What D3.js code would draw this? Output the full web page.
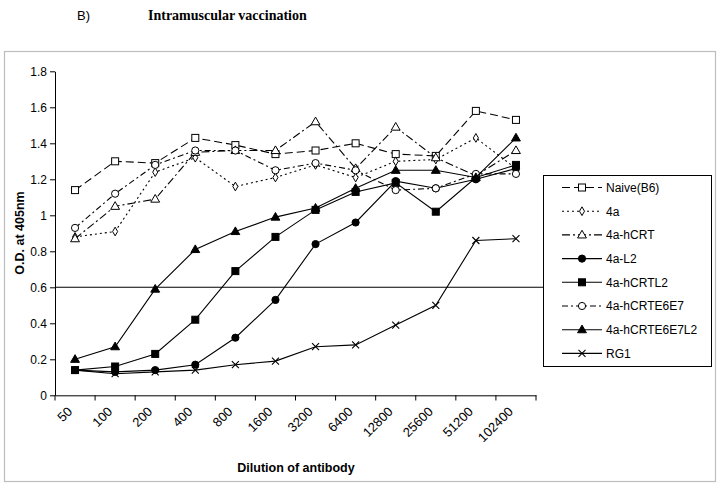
<!DOCTYPE html>
<html>
<head>
<meta charset="utf-8">
<script src="https://cdn.jsdelivr.net/npm/d3@7"></script>
<style>
  html, body { margin: 0; padding: 0; background: #fff; }
  svg { display: block; }
  text { font-family: Arial, "Liberation Sans", sans-serif; fill: #000; }
</style>
</head>
<body>
<svg id="chart" width="720" height="484"></svg>
<script>
// ---- data ----
const categories = ["50","100","200","400","800","1600","3200","6400","12800","25600","51200","102400"];
const yTickValues = [0, 0.2, 0.4, 0.6, 0.8, 1, 1.2, 1.4, 1.6, 1.8];
const yTickLabels = ["0","0.2","0.4","0.6","0.8","1","1.2","1.4","1.6","1.8"];
const seriesNames = ["Naive(B6)","4a","4a-hCRT","4a-L2","4a-hCRTL2","4a-hCRTE6E7","4a-hCRTE6E7L2","RG1"];
const naiveB6      = [1.14,1.30,1.29,1.43,1.39,1.34,1.36,1.40,1.34,1.33,1.58,1.53];
const v4a          = [0.88,0.91,1.24,1.32,1.16,1.21,1.28,1.21,1.30,1.31,1.43,1.26];
const v4aHCRT      = [0.87,1.05,1.09,1.35,1.36,1.36,1.52,1.26,1.49,1.32,1.22,1.36];
const v4aL2        = [0.14,0.13,0.14,0.17,0.32,0.53,0.84,0.96,1.19,1.15,1.20,1.26];
const v4aHCRTL2    = [0.14,0.16,0.23,0.42,0.69,0.88,1.03,1.13,1.18,1.02,1.21,1.28];
const v4aHCRTE6E7  = [0.93,1.12,1.28,1.36,1.36,1.25,1.29,1.25,1.14,1.15,1.23,1.23];
const v4aHCRTE6E7L2= [0.20,0.27,0.59,0.81,0.91,0.99,1.04,1.15,1.25,1.25,1.21,1.43];
const vRG1         = [0.14,0.12,0.13,0.14,0.17,0.19,0.27,0.28,0.39,0.50,0.86,0.87];
const cutoff = 0.6;

// ---- styles per series ----
const styles = [
  {dash:"8,4",       marker:"square",   fill:"#fff"},
  {dash:"2,3",       marker:"diamond",  fill:"#fff"},
  {dash:"8,3,2,3",   marker:"triangle", fill:"#fff"},
  {dash:null,        marker:"circle",   fill:"#000"},
  {dash:null,        marker:"square",   fill:"#000"},
  {dash:"6,3,2,3",   marker:"circle",   fill:"#fff"},
  {dash:null,        marker:"triangle", fill:"#000"},
  {dash:null,        marker:"x",        fill:"none"}
];
const seriesValues = [naiveB6, v4a, v4aHCRT, v4aL2, v4aHCRTL2, v4aHCRTE6E7, v4aHCRTE6E7L2, vRG1];

const svg = d3.select("#chart");

// outer frame
svg.append("rect").attr("x",4.5).attr("y",51.5).attr("width",711).attr("height",430)
  .attr("fill","none").attr("stroke","#bdbdbd").attr("stroke-width",1.2);

// titles
svg.append("text").attr("x",77).attr("y",20).attr("font-size",13).text("B)");
svg.append("text").attr("x",148).attr("y",20).attr("font-size",14).attr("font-weight","bold")
  .style("font-family","'Liberation Serif','Times New Roman',serif").text("Intramuscular vaccination");

// scales
const x = d3.scaleBand().domain(categories).range([55, 536]).padding(0);
const y = d3.scaleLinear().domain([0, 1.8]).range([395.3, 71.3]);
const cx = c => x(c) + x.bandwidth()/2;

// y axis
const yAxis = d3.axisLeft(y).tickValues(yTickValues).tickSize(5).tickSizeOuter(0)
  .tickFormat((d,i) => yTickLabels[i]);
const gy = svg.append("g").attr("transform","translate(55,0)").call(yAxis);
gy.selectAll("text").attr("font-size",12).attr("x",-8).style("font-family","Arial, 'Liberation Sans', sans-serif");
gy.select(".domain").attr("stroke","#000");
gy.selectAll(".tick line").attr("stroke","#000");

// x axis
const xAxis = d3.axisBottom(x).tickSize(0).tickSizeOuter(0);
const gx = svg.append("g").attr("transform","translate(0,395.3)").call(xAxis);
gx.select(".domain").attr("stroke","#000");
gx.selectAll("text")
  .attr("font-size",13)
  .style("font-family","Arial, 'Liberation Sans', sans-serif")
  .attr("text-anchor","end")
  .attr("dy",null)
  .attr("y",0)
  .attr("transform","translate(-2,17) rotate(-45)");
// category boundary ticks
const bounds = categories.map(c => x(c)).concat([x(categories[categories.length-1]) + x.bandwidth()]);
svg.append("g").selectAll("line").data(bounds).join("line")
  .attr("x1",d=>d).attr("x2",d=>d).attr("y1",395.3).attr("y2",400.5)
  .attr("stroke","#000");

// axis titles
svg.append("text").attr("x",296).attr("y",472).attr("text-anchor","middle")
  .attr("font-size",12.5).attr("font-weight","bold").text("Dilution of antibody");
svg.append("text").attr("transform","translate(24,233) rotate(-90)").attr("text-anchor","middle")
  .attr("font-size",12.5).attr("font-weight","bold").text("O.D. at 405nm");

// cutoff line
svg.append("line").attr("x1",55).attr("x2",546).attr("y1",y(cutoff)).attr("y2",y(cutoff))
  .attr("stroke","#000").attr("stroke-width",1.1);

// marker drawing
function drawMarker(g, type, fill, px, py) {
  if (type === "square") {
    g.append("rect").attr("x",px-3.5).attr("y",py-3.5).attr("width",7).attr("height",7)
      .attr("fill",fill).attr("stroke","#000").attr("stroke-width",1);
  } else if (type === "diamond") {
    g.append("path").attr("d", d3.symbol().type(d3.symbolDiamond).size(22)())
      .attr("transform",`translate(${px},${py})`).attr("fill",fill).attr("stroke","#000").attr("stroke-width",1);
  } else if (type === "triangle") {
    g.append("path").attr("d", d3.symbol().type(d3.symbolTriangle).size(34)())
      .attr("transform",`translate(${px},${py+0.5})`).attr("fill",fill).attr("stroke","#000").attr("stroke-width",1);
  } else if (type === "circle") {
    g.append("circle").attr("cx",px).attr("cy",py).attr("r",3.6)
      .attr("fill",fill).attr("stroke","#000").attr("stroke-width",1);
  } else if (type === "x") {
    const s = 3.5;
    g.append("path").attr("d",`M${px-s},${py-s}L${px+s},${py+s}M${px-s},${py+s}L${px+s},${py-s}`)
      .attr("stroke","#000").attr("stroke-width",1.1).attr("fill","none");
  }
}

const line = d3.line().x((d,i) => cx(categories[i])).y(d => y(d));

seriesValues.forEach((vals, si) => {
  const st = styles[si];
  const g = svg.append("g");
  g.append("path").attr("d", line(vals)).attr("fill","none").attr("stroke","#000")
    .attr("stroke-width",1.1).attr("stroke-dasharray", st.dash);
  vals.forEach((v,i) => drawMarker(g, st.marker, st.fill, cx(categories[i]), y(v)));
});

// legend
const lg = svg.append("g");
lg.append("rect").attr("x",543.5).attr("y",175.5).attr("width",168).attr("height",191)
  .attr("fill","#fff").attr("stroke","#000").attr("stroke-width",1);
seriesNames.forEach((name, i) => {
  const st = styles[i];
  const ly = 187.5 + i*23.7;
  lg.append("line").attr("x1",562).attr("x2",602).attr("y1",ly).attr("y2",ly)
    .attr("stroke","#000").attr("stroke-width",1.1).attr("stroke-dasharray", st.dash);
  drawMarker(lg, st.marker, st.fill, 582, ly);
  lg.append("text").attr("x",606).attr("y",ly+4.3).attr("font-size",12).text(name);
});
</script>
</body>
</html>
